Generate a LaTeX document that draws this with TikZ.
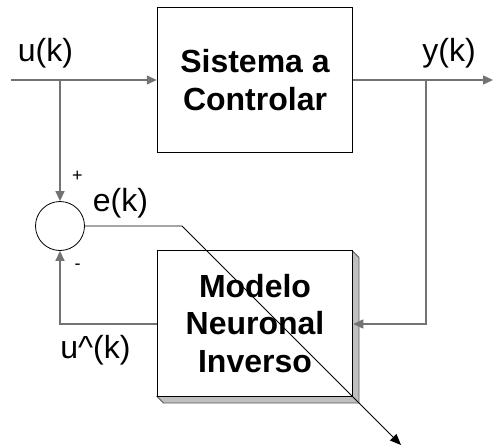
\documentclass[tikz,border=0pt]{standalone}
\usepackage{fontspec}
\setmainfont{Liberation Sans}
\usetikzlibrary{arrows.meta}
\tikzset{
  wire/.style={draw=black!55, line width=1.4pt},
  tip/.style={-{Triangle[length=10pt,width=9pt]}},
  blockbox/.style={draw=black, line width=1pt, fill=white, inner sep=0pt, align=center,
    font=\bfseries\fontsize{32}{37.5}\selectfont},
  lbl/.style={font=\fontsize{32}{37.5}\selectfont, inner sep=0pt, anchor=base},
  sgn/.style={font=\fontsize{18}{20}\selectfont, inner sep=0pt},
}
\begin{document}
\begin{tikzpicture}[x=1pt,y=-1pt]
\useasboundingbox (0,0) rectangle (493,447);
% shadow of lower block
\filldraw[fill=black!25, draw=black!65, line width=0.8pt]
  (352.5,251) -- (359,257.5) -- (359,403) -- (163.5,403) -- (157,396.5) -- (352.5,396.5) -- cycle;
% blocks
\node[blockbox, minimum width=195.5pt, minimum height=145.5pt] (plant) at (255,80) {Sistema a\\Controlar};
\node[blockbox, minimum width=195.5pt, minimum height=145.5pt] (model) at (255,323.5) {Modelo\\Neuronal\\Inverso};
% summing junction
\node[draw=black, line width=0.8pt, circle, minimum size=49pt, inner sep=0pt] (sum) at (60,226) {};
% coordinates
\coordinate (in) at (11,80);
\coordinate (bu) at (60,80);
\coordinate (by) at (426,80);
\coordinate (out) at (493,80);
\coordinate (fb) at (426,324);
\coordinate (ml) at (60,324);
\coordinate (ek) at (182,226);
\coordinate (adapt) at (401,445);
% connectors
\draw[wire, tip] (in) -- (plant.west);
\draw[wire, tip] (plant.east) -- (out);
\draw[wire, tip] (bu) -- (sum.north);
\draw[wire, tip] (by) -- (fb) -- (model.east |- fb);
\draw[wire, tip] (model.west |- ml) -- (ml) -- (sum.south);
\draw[black, line width=0.9pt, -{Triangle[length=11pt,width=9pt]}] (sum.east) -- (ek) -- (adapt);
% labels
\node[lbl] (lu) at (45.5,61) {u(k)};
\node[lbl] (ly) at (449,61) {y(k)};
\node[lbl] (le) at (120.5,211.5) {e(k)};
\node[lbl] (luh) at (95.5,358) {u\^{}(k)};
\node[sgn] (plus) at (77.5,176) {+};
\node[sgn] (minus) at (77.5,267) {-};
\end{tikzpicture}
\end{document}
